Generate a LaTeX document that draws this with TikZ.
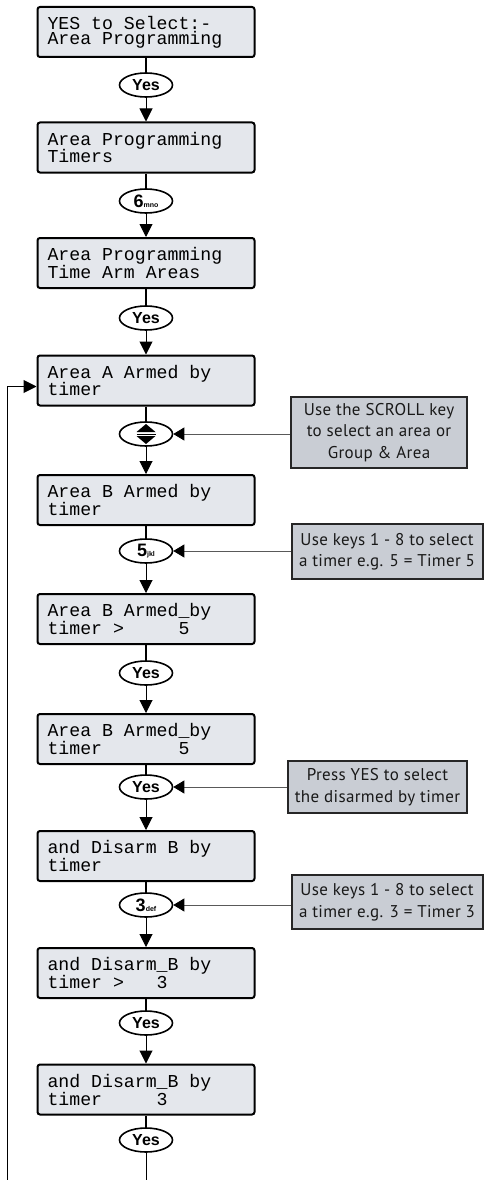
\documentclass[tikz,border=0pt]{standalone}
\usepackage{fontspec}
\setmainfont{Liberation Sans}
\newfontfamily\lcdfont{Liberation Mono}
\newfontfamily\notefont[LetterSpace=2]{PT Sans}
\usetikzlibrary{arrows.meta,shapes.geometric}
\definecolor{lcdfill}{HTML}{E4E7EC}
\definecolor{notefill}{HTML}{C9CDD4}
\newcommand\keysub[1]{{\fontsize{7}{7}\selectfont #1}}
\newcommand\lcdsetup{\lcdfont\fontsize{18.2}{15}\selectfont}
\newcommand\lcdspaces{\spaceskip=\fontcharwd\font 48\relax\xspaceskip=\spaceskip}
\begin{document}
\begin{tikzpicture}[x=1pt,y=-1pt,
  lcd/.style={draw=black, line width=2pt, rounded corners=2.5pt, fill=lcdfill,
    minimum width=217pt, minimum height=50pt, text width=197pt,
    inner xsep=10pt, inner ysep=0pt, align=left, font=\lcdsetup,
    execute at begin node={\lcdspaces}},
  key/.style={draw=black, line width=1.6pt, ellipse, fill=white,
    minimum width=53pt, minimum height=24pt, inner sep=0pt,
    font=\bfseries\fontsize{16}{16}\selectfont},
  note/.style={draw=black!85, line width=2pt, fill=notefill, align=center,
    inner sep=0pt, text=black!90, font=\notefont\fontsize{17}{21.5}\selectfont},
  feed/.style={line width=2pt},
  flow/.style={line width=1pt, -{Triangle[length=13pt,width=13pt]}},
  hint/.style={line width=0.8pt, draw=black!65, -{Triangle[length=11pt,width=13pt,color=black]}},
]
\useasboundingbox (0,0) rectangle (484,1180);

% LCD boxes
\node[lcd] (b1)  at (146,32)    {YES to Select:-\\Area Programming};
\node[lcd] (b2)  at (146,147.5) {Area Programming\\Timers};
\node[lcd] (b3)  at (146,263)   {Area Programming\\Time Arm Areas};
\node[lcd] (b4)  at (146,380.5) {Area A Armed by\\timer};
\node[lcd] (b5)  at (146,500)   {Area B Armed by\\timer};
\node[lcd] (b6)  at (146,619)   {Area B Armed\_by\\timer >\phantom{00000}5};
\node[lcd] (b7)  at (146,739)   {Area B Armed\_by\\timer\phantom{0000000}5};
\node[lcd] (b8)  at (146,856)   {and Disarm B by\\timer};
\node[lcd] (b9)  at (146,973)   {and Disarm\_B by\\timer >\phantom{000}3};
\node[lcd] (b10) at (146,1089.5){and Disarm\_B by\\timer\phantom{00000}3};

% keys
\node[key] (e1)  at (146,85)   {Yes};
\node[key] (e2)  at (146,201)  {{\fontsize{18}{18}\selectfont 6}\keysub{mno}};
\node[key] (e3)  at (146,318)  {Yes};
\node[key] (e4)  at (146,434)  {};
\node[key] (e5)  at (146,551)  {{\fontsize{18}{18}\selectfont 5}\keysub{jkl}};
\node[key] (e6)  at (146,673)  {Yes};
\node[key] (e7)  at (146,787)  {Yes};
\node[key] (e8)  at (146,905)  {{\fontsize{18}{18}\selectfont 3}\keysub{def}};
\node[key] (e9)  at (146,1023) {Yes};
\node[key] (e10) at (146,1140) {Yes};

% scroll symbol
\fill ([shift={(-9.5,-2)}]e4.center) -- ++(19,0) -- ++(-9.5,-8) -- cycle;
\fill ([shift={(-9.5,2)}]e4.center) -- ++(19,0) -- ++(-9.5,8) -- cycle;
\draw[line width=1pt] ([xshift=-9.5pt]e4.center) -- ([xshift=9.5pt]e4.center);

% notes
\node[note, minimum width=176pt, minimum height=71pt] (n1) at (379,432.5)
  {Use the SCROLL key\\to select an area or\\Group \& Area};
\node[note, minimum width=191pt, minimum height=55pt] (n2) at (387,551.5)
  {Use keys 1 - 8 to select\\a timer e.g. 5 = Timer 5};
\node[note, minimum width=179pt, minimum height=52pt] (n3) at (377.5,787)
  {Press YES to select\\the disarmed by timer};
\node[note, minimum width=191pt, minimum height=54pt] (n4) at (387,902)
  {Use keys 1 - 8 to select\\a timer e.g. 3 = Timer 3};

% main flow
\foreach \b/\e/\n in {b1/e1/b2, b2/e2/b3, b3/e3/b4, b4/e4/b5, b5/e5/b6,
                      b6/e6/b7, b7/e7/b8, b8/e8/b9, b9/e9/b10}{
  \draw[feed] (\b.south) -- (\e.north);
  \draw[flow] (\e.south) -- (\n.north);
}
\draw[feed] (b10.south) -- (e10.north);
\coordinate (tail) at (146,1180);
\draw[line width=1pt] (e10.south) -- (tail);

% hints
\draw[hint] (n1.west |- e4.east) -- (e4.east);
\draw[hint] (n2.west |- e5.east) -- (e5.east);
\draw[hint] (n3.west |- e7.east) -- (e7.east);
\draw[hint] (n4.west |- e8.east) -- (e8.east);

% loop back
\coordinate (loopbot) at (7,1180);
\draw[flow] (loopbot) |- ([yshift=-6pt]b4.west);
\end{tikzpicture}
\end{document}
